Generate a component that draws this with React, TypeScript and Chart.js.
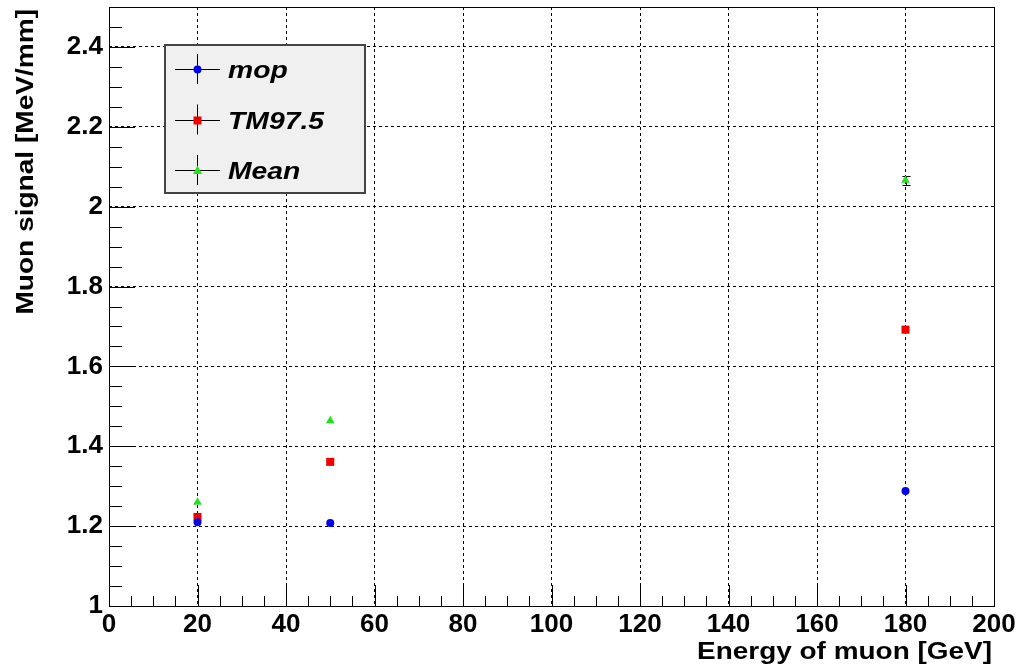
import React, { useEffect, useRef } from "react";
import { Chart, registerables } from "chart.js";

Chart.register(...registerables);

// ---- data ----
const energies = [20, 50, 180];
const mopValues = [1.21, 1.208, 1.288];
const tmValues = [1.223, 1.361, 1.692];
const meanValues = [1.26, 1.464, 2.066];
const mopErrors = [0.003, 0.003, 0.004];
const tmErrors = [0.004, 0.004, 0.005];
const meanErrors = [0.005, 0.005, 0.011];
const seriesNames = ["mop", "TM97.5", "Mean"];
const seriesColors = ["#0000f0", "#f00000", "#22e022"];
const seriesShapes = ["circle", "rect", "triangle"];
const xTitle = "Energy of muon [GeV]";
const yTitle = "Muon signal [MeV/mm]";
const xRange = [0, 200];
const yRange = [1, 2.5];
const xMajorStep = 20;
const yMajorStep = 0.2;

const FONT = "'Liberation Sans', Arial, Helvetica, sans-serif";

function drawMarker(ctx: CanvasRenderingContext2D, shape: string, x: number, y: number, color: string) {
  ctx.save();
  ctx.fillStyle = color;
  ctx.beginPath();
  if (shape === "circle") {
    ctx.arc(x, y, 4, 0, Math.PI * 2);
  } else if (shape === "rect") {
    ctx.rect(x - 4, y - 4, 8, 8);
  } else {
    ctx.moveTo(x, y - 5);
    ctx.lineTo(x + 4.5, y + 3.5);
    ctx.lineTo(x - 4.5, y + 3.5);
    ctx.closePath();
  }
  ctx.fill();
  ctx.restore();
}

const rootStylePlugin = {
  id: "rootStyle",
  beforeDatasetsDraw(chart: any) {
    const ctx: CanvasRenderingContext2D = chart.ctx;
    const xs = chart.scales.x;
    const ys = chart.scales.y;
    ctx.save();
    ctx.strokeStyle = "#000";
    ctx.lineWidth = 1;
    chart.data.datasets.forEach((ds: any) => {
      ds.data.forEach((p: any, i: number) => {
        const e = ds.errors ? ds.errors[i] : 0;
        const px = Math.round(xs.getPixelForValue(p.x)) + 0.5;
        const top = Math.round(ys.getPixelForValue(p.y + e)) + 0.5;
        const bot = Math.round(ys.getPixelForValue(p.y - e)) + 0.5;
        if (bot - top > 6) {
          ctx.beginPath();
          ctx.moveTo(px, top);
          ctx.lineTo(px, bot);
          ctx.moveTo(px - 4, top);
          ctx.lineTo(px + 4, top);
          ctx.moveTo(px - 4, bot);
          ctx.lineTo(px + 4, bot);
          ctx.stroke();
        }
      });
    });
    ctx.restore();
  },
  afterDatasetsDraw(chart: any) {
    const ctx: CanvasRenderingContext2D = chart.ctx;
    const { left, right, top, bottom } = chart.chartArea;
    const xs = chart.scales.x;
    const ys = chart.scales.y;
    ctx.save();
    ctx.strokeStyle = "#000";
    ctx.lineWidth = 1;
    ctx.setLineDash([]);
    // x ticks (4 minor divisions)
    const xn = Math.round((xRange[1] - xRange[0]) / (xMajorStep / 4));
    ctx.beginPath();
    for (let i = 0; i <= xn; i++) {
      const v = xRange[0] + (i * xMajorStep) / 4;
      const px = Math.round(xs.getPixelForValue(v)) + 0.5;
      const len = i % 4 === 0 ? 21 : 10;
      ctx.moveTo(px, bottom);
      ctx.lineTo(px, bottom - len);
    }
    // y ticks
    const yn = Math.round((yRange[1] - yRange[0]) / (yMajorStep / 4));
    for (let i = 0; i <= yn; i++) {
      const v = yRange[0] + (i * yMajorStep) / 4;
      const py = Math.round(ys.getPixelForValue(v)) + 0.5;
      const len = i % 4 === 0 ? 26 : 13;
      ctx.moveTo(left, py);
      ctx.lineTo(left + len, py);
    }
    ctx.stroke();
    ctx.strokeRect(Math.round(left) + 0.5, Math.round(top) + 0.5, Math.round(right - left), Math.round(bottom - top));
    ctx.restore();
  },
  afterDraw(chart: any) {
    const ctx: CanvasRenderingContext2D = chart.ctx;
    const { right } = chart.chartArea;
    ctx.save();
    // legend box
    const lx = 165, ly = 45, lw = 200, lh = 148;
    ctx.fillStyle = "#f0f0f0";
    ctx.fillRect(lx, ly, lw, lh);
    ctx.strokeStyle = "#444";
    ctx.lineWidth = 2;
    ctx.strokeRect(lx, ly, lw, lh);
    const centers = [69, 119.5, 170];
    seriesNames.forEach((name, i) => {
      const cy = centers[i];
      const cx = 197;
      ctx.strokeStyle = "#000";
      ctx.lineWidth = 1;
      ctx.beginPath();
      ctx.moveTo(175, Math.round(cy) + 0.5);
      ctx.lineTo(220, Math.round(cy) + 0.5);
      ctx.moveTo(cx + 0.5, cy - 15);
      ctx.lineTo(cx + 0.5, cy + 15);
      ctx.stroke();
      drawMarker(ctx, seriesShapes[i], cx + 0.5, Math.round(cy) + 0.5, seriesColors[i]);
      ctx.save();
      ctx.fillStyle = "#000";
      ctx.font = `italic bold 24px ${FONT}`;
      ctx.textAlign = "left";
      ctx.textBaseline = "alphabetic";
      ctx.translate(228, cy + 9);
      ctx.scale(1.18, 1);
      ctx.fillText(name, 0, 0);
      ctx.restore();
    });
    // axis titles
    ctx.fillStyle = "#000";
    ctx.font = `bold 23px ${FONT}`;
    ctx.textBaseline = "alphabetic";
    ctx.save();
    ctx.translate(right - 2, 659);
    ctx.scale(1.215, 1);
    ctx.textAlign = "right";
    ctx.fillText(xTitle, 0, 0);
    ctx.restore();
    ctx.save();
    ctx.translate(33, 9);
    ctx.rotate(-Math.PI / 2);
    ctx.scale(1.22, 1);
    ctx.textAlign = "right";
    ctx.fillText(yTitle, 0, 0);
    ctx.restore();
    ctx.restore();
  },
};

function fmt(v: number) {
  return String(Math.round(v * 100) / 100);
}

export default function App() {
  const ref = useRef<HTMLCanvasElement | null>(null);
  useEffect(() => {
    if (!ref.current) return;
    const mk = (vals: number[], errs: number[], i: number) => ({
      label: seriesNames[i],
      data: energies.map((x, k) => ({ x, y: vals[k] })),
      errors: errs,
      backgroundColor: seriesColors[i],
      borderColor: seriesColors[i],
      borderWidth: 0,
      pointStyle: seriesShapes[i],
      pointRadius: i === 0 ? 4 : i === 1 ? 5.7 : 5,
      showLine: false,
    });
    const tickFont = { family: FONT, size: 26, weight: "bold" as const };
    const chart = new Chart(ref.current, {
      type: "scatter",
      data: {
        datasets: [
          mk(mopValues, mopErrors, 0),
          mk(tmValues, tmErrors, 1),
          mk(meanValues, meanErrors, 2),
        ] as any,
      },
      options: {
        animation: false,
        responsive: false,
        devicePixelRatio: 1,
        layout: { padding: { top: 7, right: 23, left: 0, bottom: 0 } },
        plugins: { legend: { display: false }, tooltip: { enabled: false } },
        scales: {
          x: {
            type: "linear",
            min: xRange[0],
            max: xRange[1],
            ticks: {
              stepSize: xMajorStep,
              font: tickFont,
              color: "#000",
              padding: 3,
              maxRotation: 0,
              autoSkip: false,
              includeBounds: false,
              callback: (v: any) => fmt(Number(v)),
            },
            grid: { color: "#000", lineWidth: 1, drawTicks: false },
            border: { display: false, dash: [3, 3] },
            afterFit: (s: any) => {
              s.height = 63;
              s.paddingLeft = 0;
              s.paddingRight = 0;
            },
          },
          y: {
            type: "linear",
            min: yRange[0],
            max: yRange[1],
            ticks: {
              stepSize: yMajorStep,
              font: tickFont,
              color: "#000",
              padding: 6,
              autoSkip: false,
              includeBounds: false,
              callback: (v: any) => fmt(Number(v)),
            },
            grid: { color: "#000", lineWidth: 1, drawTicks: false },
            border: { display: false, dash: [3, 3] },
            afterFit: (s: any) => {
              s.width = 109;
              s.paddingTop = 0;
              s.paddingBottom = 0;
            },
          },
        },
      } as any,
      plugins: [rootStylePlugin],
    });
    return () => chart.destroy();
  }, []);
  return (
    <div style={{ position: "fixed", left: 0, top: 0, width: 1017, height: 669, background: "#fff" }}>
      <canvas ref={ref} width={1017} height={669} style={{ display: "block" }} />
    </div>
  );
}
